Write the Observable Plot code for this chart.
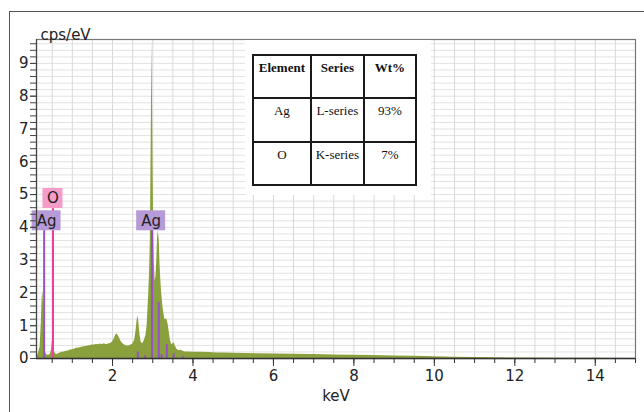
<!DOCTYPE html>
<html>
<head>
<meta charset="utf-8">
<script src="https://cdn.jsdelivr.net/npm/d3@7"></script>
<script src="https://cdn.jsdelivr.net/npm/@observablehq/plot@0.6"></script>
<style>
  html, body { margin: 0; padding: 0; background: #fff; }
  #wrap { position: relative; width: 644px; height: 412px; overflow: hidden; background: #fff; }
  #outer { position: absolute; left: 9px; top: 11px; width: 700px; height: 500px;
           border-left: 1.5px solid #555; border-top: 1.5px solid #555; box-sizing: border-box; }
  #chart { position: absolute; left: 0; top: 0; }
  #tablebox { position: absolute; left: 245px; top: 40px; width: 186px; height: 155px; background: #fff; }
  #tablebox table { position: absolute; left: 7px; top: 14px; width: 165px; height: 132px;
           border-collapse: collapse; font-family: "Liberation Serif", "Times New Roman", serif;
           font-size: 13px; color: #111; }
  #tablebox td, #tablebox th { border: 2.5px solid #1a1a1a; text-align: center; vertical-align: top;
           padding: 4px 2px 0 2px; width: 55px; }
  #tablebox th { font-weight: bold; }
</style>
</head>
<body>
<div id="wrap">
  <div id="outer"></div>
  <div id="chart"></div>
  <div id="tablebox"></div>
</div>
<script>
// ---- data ----
const energyKeV = [0.11,0.15,0.2,0.23,0.25,0.27,0.29,0.31,0.33,0.36,0.4,0.45,0.48,0.5,0.52,0.54,0.56,0.6,0.65,0.7,0.75,0.8,0.85,0.9,0.95,1.0,1.05,1.1,1.15,1.2,1.25,1.3,1.35,1.4,1.45,1.5,1.55,1.6,1.65,1.7,1.75,1.8,1.85,1.9,1.95,2.0,2.05,2.08,2.11,2.14,2.18,2.22,2.27,2.32,2.38,2.44,2.5,2.55,2.58,2.61,2.63,2.65,2.68,2.71,2.75,2.79,2.83,2.86,2.88,2.9,2.92,2.94,2.96,2.98,3.0,3.02,3.04,3.06,3.08,3.1,3.12,3.14,3.16,3.18,3.2,3.22,3.26,3.3,3.33,3.35,3.38,3.41,3.44,3.47,3.5,3.53,3.56,3.6,3.65,3.7,3.8,3.9,4.0,4.2,4.4,4.6,4.8,5.0,5.3,5.6,6.0,6.5,7.0,7.5,8.0,8.5,9.0,9.5,10.0,10.5,11,12,13,14,15];
const cps = [0.05,0.12,0.35,1.1,1.85,2.05,1.5,0.5,0.2,0.12,0.1,0.12,0.25,0.5,0.66,0.45,0.18,0.12,0.14,0.17,0.19,0.2,0.22,0.23,0.26,0.27,0.28,0.31,0.32,0.33,0.35,0.36,0.37,0.38,0.4,0.41,0.41,0.43,0.42,0.44,0.43,0.45,0.42,0.44,0.46,0.5,0.62,0.72,0.75,0.7,0.6,0.5,0.44,0.4,0.38,0.4,0.44,0.55,0.8,1.15,1.3,1.15,0.75,0.5,0.45,0.55,0.7,1.0,1.5,2.0,2.6,3.6,6.5,9.72,7.0,4.2,2.9,2.35,2.5,3.0,3.7,3.9,3.6,2.9,2.4,2.0,1.5,1.2,1.2,1.2,1.05,0.8,0.55,0.42,0.45,0.48,0.38,0.28,0.24,0.25,0.2,0.2,0.19,0.19,0.18,0.17,0.17,0.16,0.15,0.145,0.14,0.13,0.12,0.11,0.1,0.09,0.08,0.065,0.05,0.04,0.03,0.015,0.008,0.004,0.002];

const agLineKeV = [0.30, 2.63, 2.81, 2.98, 3.15, 3.22, 3.35, 3.52, 3.75];
const agLineHeight = [3.9, 0.2, 0.08, 3.9, 1.7, 0.12, 0.42, 0.14, 0.05];
const oLineKeV = [0.52];
const oLineHeight = [4.57];

const labelText = ["O", "Ag", "Ag"];
const labelKeV = [0.52, 0.36, 2.96];
const labelCps = [4.88, 4.2, 4.2];

const xMajorTicks = [2, 4, 6, 8, 10, 12, 14];
const yMajorTicks = [0, 1, 2, 3, 4, 5, 6, 7, 8, 9];

const tableHeader = ["Element", "Series", "Wt%"];
const tableElement = ["Ag", "O"];
const tableSeries = ["L-series", "K-series"];
const tableWt = ["93%", "7%"];

// ---- build ----
const spectrum = energyKeV.map((e, i) => ({e, c: cps[i]}));
const agLines = agLineKeV.map((e, i) => ({e, h: agLineHeight[i]}));
const oLines = oLineKeV.map((e, i) => ({e, h: oLineHeight[i]}));
const labels = labelText.map((t, i) => ({t, e: labelKeV[i], c: labelCps[i]}));
const xMinor = d3.range(0.5, 15.01, 0.5);
const yMinor = d3.range(0, 9.75, 0.2);

const x0 = 0.11;
const plot = Plot.plot({
  width: 644,
  height: 412,
  marginLeft: 36,
  marginRight: 9,
  marginTop: 39,
  marginBottom: 54,
  x: {domain: [x0, 15]},
  y: {domain: [0, 9.73]},
  style: {fontFamily: "DejaVu Sans, Verdana, sans-serif", fontSize: "15px", color: "#222", background: "transparent", overflow: "visible"},
  marks: [
    Plot.gridY(yMinor, {stroke: "#e2e2e2", strokeOpacity: 1}),
    Plot.gridX(xMinor, {stroke: "#d9d9d9", strokeOpacity: 1}),
    Plot.areaY(spectrum, {x: "e", y: "c", fill: "#8aa03c"}),
    Plot.ruleX(agLines, {x: "e", y1: 0, y2: "h", stroke: "#9650c8", strokeWidth: 2}),
    Plot.ruleX(oLines, {x: "e", y1: 0, y2: "h", stroke: "#f03c9c", strokeWidth: 2}),
    Plot.rect(labels.filter(d => d.t === "O"), {x1: "e", x2: "e", y1: "c", y2: "c",
      insetLeft: -10, insetRight: -10, insetTop: -10, insetBottom: -10, fill: "#f59cc8"}),
    Plot.rect(labels.filter(d => d.t === "Ag"), {x1: "e", x2: "e", y1: "c", y2: "c",
      insetLeft: -14.5, insetRight: -14.5, insetTop: -10, insetBottom: -10, fill: "#b79ad8"}),
    Plot.text(labels, {x: "e", y: "c", text: "t", fill: "#222", fontSize: 15}),
    Plot.frame({stroke: "#777", strokeWidth: 1.2}),
    Plot.ruleY([0], {stroke: "#333", strokeWidth: 1.5}),
    Plot.ruleX([x0], {stroke: "#444", strokeWidth: 1.2}),
    Plot.axisY(yMinor, {tickSize: 6, tickFormat: () => "", label: null, stroke: "#444"}),
    Plot.axisY(yMajorTicks, {tickSize: 6, tickPadding: 2, label: null, stroke: "#444", fontSize: 15}),
    Plot.axisX(xMinor, {tickSize: 5, tickFormat: () => "", label: null, stroke: "#333"}),
    Plot.axisX(xMajorTicks, {tickSize: 8, tickPadding: 4, label: null, stroke: "#333", fontSize: 15}),
    Plot.text(["cps/eV"], {frameAnchor: "top-left", dx: 4, dy: -10, textAnchor: "start", fontSize: 15, fill: "#222"}),
    Plot.text(["keV"], {frameAnchor: "bottom", dy: 42, fontSize: 15, fill: "#222"})
  ]
});
document.getElementById("chart").appendChild(plot);

// ---- composition table ----
const tbl = d3.select("#tablebox").append("table");
tbl.append("tr").selectAll("th").data(tableHeader).join("th").text(d => d);
tableElement.forEach((el, i) => {
  tbl.append("tr").selectAll("td").data([el, tableSeries[i], tableWt[i]]).join("td").text(d => d);
});
</script>
</body>
</html>
